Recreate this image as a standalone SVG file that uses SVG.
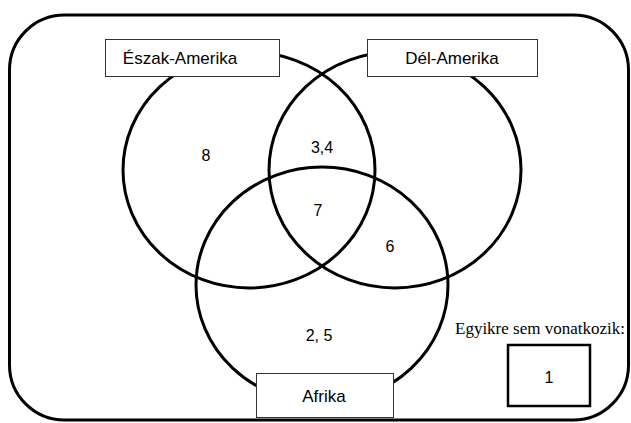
<svg xmlns="http://www.w3.org/2000/svg" width="631" height="423" viewBox="0 0 631 423">
<style>
.frame{fill:none;stroke:#000;stroke-width:3}
.set{fill:none;stroke:#000;stroke-width:3}
.label{fill:#fff;stroke:#333;stroke-width:1}
.t{font-family:"Liberation Sans",Arial,sans-serif;font-size:16px;fill:#000;text-anchor:middle;dominant-baseline:central}
.big{font-size:17px}
.serif{font-family:"Liberation Serif","Times New Roman",serif;font-size:17px;fill:#000;text-anchor:middle;dominant-baseline:central}
.box1{fill:#fff;stroke:#000;stroke-width:2.5}
</style>
<rect id="universe" class="frame" x="9.5" y="15" width="619" height="405" rx="55" ry="55"/>
<g id="set-eszak">
<ellipse class="set" cx="249" cy="170" rx="126" ry="118"/>
</g>
<g id="set-del">
<ellipse class="set" cx="395" cy="170" rx="126" ry="118"/>
</g>
<g id="set-afrika">
<ellipse class="set" cx="322" cy="285" rx="126" ry="118"/>
</g>
<g id="label-eszak">
<rect class="label" x="105.5" y="39.5" width="174" height="37"/>
<text class="t big" x="180" y="58">Észak-Amerika</text>
</g>
<g id="label-del">
<rect class="label" x="367.5" y="39.5" width="170" height="37"/>
<text class="t big" x="452" y="58">Dél-Amerika</text>
</g>
<g id="label-afrika">
<rect class="label" x="256.5" y="373.5" width="137" height="44"/>
<text class="t big" x="324" y="396">Afrika</text>
</g>
<g id="values">
<text class="t" x="206" y="155">8</text>
<text class="t" x="322" y="147">3,4</text>
<text class="t" x="318" y="210">7</text>
<text class="t" x="390" y="246">6</text>
<text class="t" x="319" y="335">2, 5</text>
</g>
<g id="none">
<text class="serif" x="540" y="328">Egyikre sem vonatkozik:</text>
<rect class="box1" x="508" y="345" width="82" height="61"/>
<text class="t" x="549" y="377">1</text>
</g>
<g id="connectors"/>
</svg>
